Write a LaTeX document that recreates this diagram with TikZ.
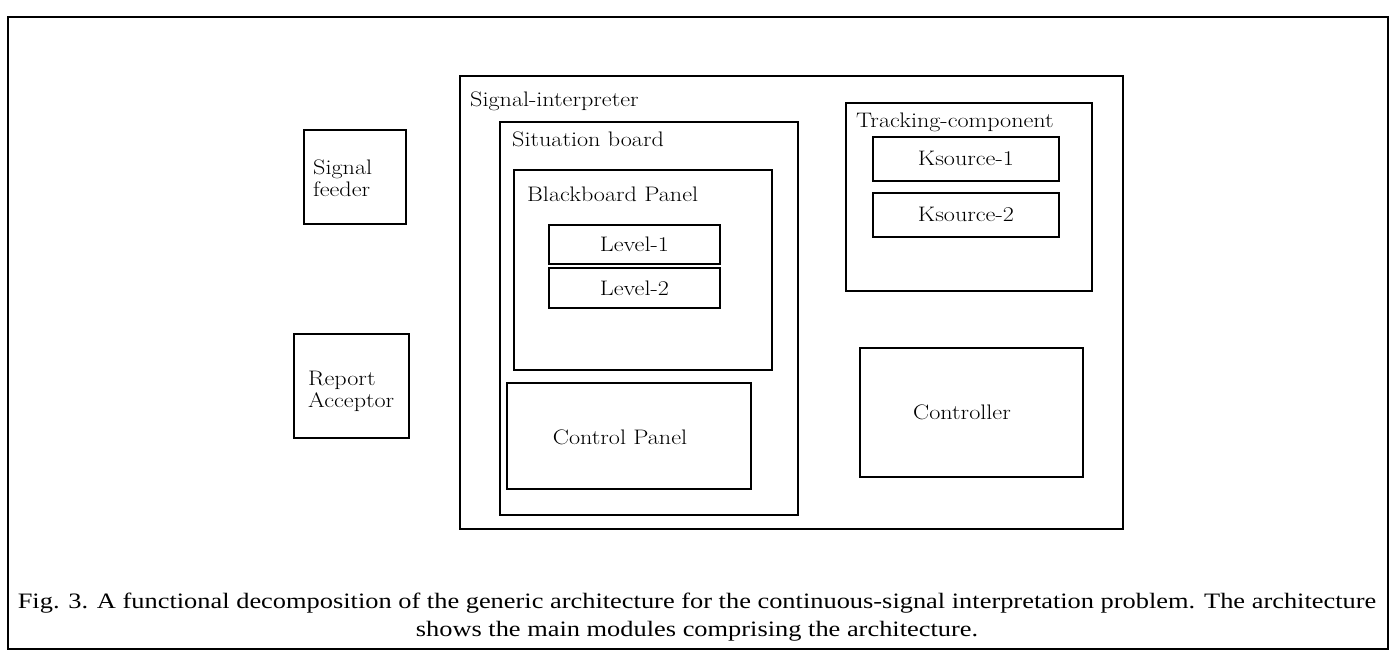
\documentclass[tikz,border=0pt]{standalone}
\usepackage{fontspec}
\newfontfamily\capfont[FakeStretch=1.2]{Liberation Serif}
\newfontfamily\dfam[FakeStretch=1.15]{Latin Modern Roman}
\newcommand\dfont{\dfam\fontsize{21}{22}\selectfont}
\tikzset{
  box/.style={draw, line width=1.8pt, anchor=north west, inner sep=0pt},
  lbl/.style={anchor=base west, inner sep=0pt, font=\dfont},
  ctext/.style={anchor=center, inner sep=0pt, font=\dfont},
}
\begin{document}
\begin{tikzpicture}[x=1pt,y=-1pt]
\useasboundingbox (0,0) rectangle (1395,655);
% outer frame
\node[box, line width=2.2pt, minimum width=1380pt, minimum height=632pt] (outer) at (7,16) {};
% left modules
\node[box, minimum width=102pt, minimum height=94pt] (feeder) at (303,129) {};
\node[anchor=west, inner sep=0pt, font=\dfont, align=left] (feedert) at (313,178) {Signal\\feeder};
\node[box, minimum width=115pt, minimum height=104pt] (report) at (293,333) {};
\node[anchor=west, inner sep=0pt, font=\dfont, align=left] (reportt) at (308,391) {Report\\Acceptor};
% signal interpreter
\node[box, minimum width=663pt, minimum height=453pt] (sigint) at (459,75) {};
\node[lbl] (sigintt) at (470,107) {Signal-interpreter};
% situation board
\node[box, minimum width=298pt, minimum height=393pt] (sitb) at (499,121) {};
\node[lbl] (sitbt) at (512,147) {Situation board};
% blackboard panel
\node[box, minimum width=258pt, minimum height=200pt] (bbp) at (513,169) {};
\node[lbl] (bbpt) at (527,202) {Blackboard Panel};
\node[box, minimum width=171pt, minimum height=39pt] (lev1) at (548,224) {};
\node[ctext] (lev1t) at (lev1.center) {Level-1};
\node[box, minimum width=171pt, minimum height=40pt] (lev2) at (548,267) {};
\node[ctext] (lev2t) at (lev2.center) {Level-2};
% control panel
\node[box, minimum width=244pt, minimum height=106pt] (cp) at (506,382) {};
\node[ctext] (cpt) at (620,437) {Control Panel};
% tracking component
\node[box, minimum width=246pt, minimum height=188pt] (track) at (845,102) {};
\node[lbl] (trackt) at (856,128) {Tracking-component};
\node[box, minimum width=186pt, minimum height=44pt] (ks1) at (872,136) {};
\node[ctext] (ks1t) at (ks1.center) {Ksource-1};
\node[box, minimum width=186pt, minimum height=44pt] (ks2) at (872,192) {};
\node[ctext] (ks2t) at (ks2.center) {Ksource-2};
% controller
\node[box, minimum width=223pt, minimum height=129pt] (ctrl) at (859,347) {};
\node[ctext] (ctrlt) at (962,412) {Controller};
% caption
\node[anchor=center, inner sep=0pt, align=center, font=\capfont\fontsize{22}{24}\selectfont] (cap) at (697,617)
  {Fig. 3. A functional decomposition of the generic architecture for the continuous-signal interpretation problem. The architecture\\[4pt]
   shows the main modules comprising the architecture.};
\end{tikzpicture}
\end{document}
